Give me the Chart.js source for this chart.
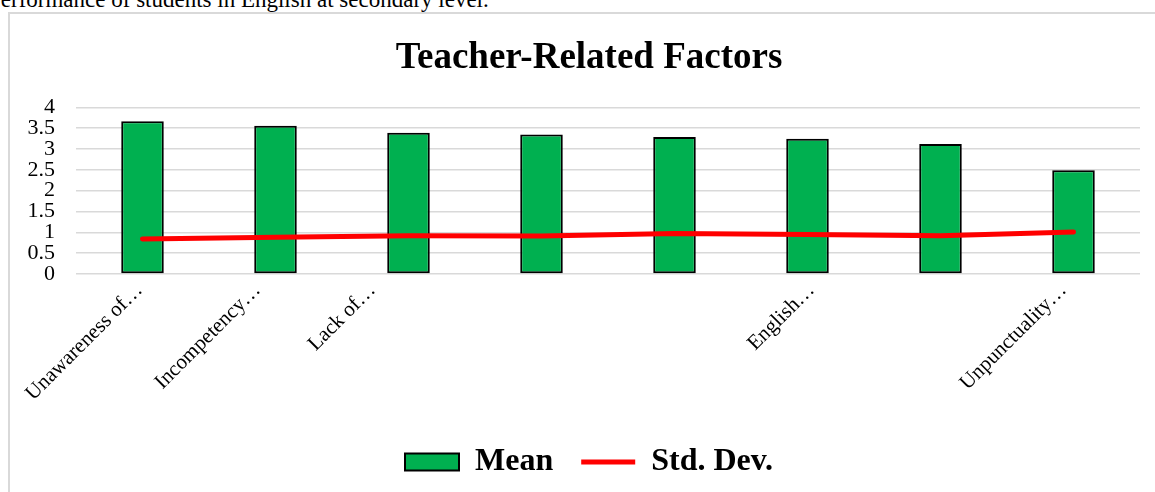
<!DOCTYPE html>
<html>
<head>
<meta charset="utf-8">
<script src="https://cdn.jsdelivr.net/npm/chart.js@4.4.0/dist/chart.umd.min.js"></script>
<style>
  html, body { margin: 0; padding: 0; background: #fff; overflow: hidden; }
  body { width: 1155px; height: 492px; position: relative; }
  .doc-line {
    position: absolute; left: -12px; top: -12px;
    font: 23px/23px "Liberation Serif", "Times New Roman", serif;
    color: #000; white-space: nowrap;
  }
  .chart-box {
    position: absolute; left: 8px; top: 12px; width: 1200px; height: 500px;
    border-left: 2px solid #d9d9d9; border-top: 2px solid #d9d9d9;
  }
  .chart-box canvas { display: block; }
</style>
</head>
<body>
<div class="doc-line">Performance of students in English at secondary level.</div>
<div class="chart-box">
  <canvas id="chart1" width="1158" height="478"></canvas>
</div>
<script>
const categories = ['Unawareness of…', 'Incompetency…', 'Lack of…', '', '', 'English…', '', 'Unpunctuality…'];
const meanValues = [3.67, 3.56, 3.39, 3.35, 3.29, 3.25, 3.12, 2.49];
const stdDevValues = [0.84, 0.88, 0.92, 0.91, 0.97, 0.95, 0.92, 1.01];
const yTicks = [0, 0.5, 1, 1.5, 2, 2.5, 3, 3.5, 4];

const serif = '"Liberation Serif", "Times New Roman", serif';
const ctx1 = document.getElementById('chart1');

// Excel places its truncated rotated labels a little off the tick; nudge them sideways to match
const labelNudge = {
    id: 'labelNudge',
    afterLayout(chart, args, options) {
        const scale = chart.scales.x;
        const items = scale.getLabelItems(chart.chartArea);
        items.forEach((item, i) => {
            item.options.translation[0] += (options.dx[i] || 0);
        });
    }
};

new Chart(ctx1, {
    type: 'bar',
    data: {
        labels: categories,
        datasets: [{
            label: 'Mean',
            data: meanValues,
            backgroundColor: '#00B050',
            borderColor: '#000000',
            borderWidth: 2,
            borderSkipped: false,
            barPercentage: 0.32,
            categoryPercentage: 1,
            pointStyle: 'rect',
            order: 1
        }, {
            type: 'line',
            label: 'Std. Dev.',
            data: stdDevValues,
            borderColor: '#FF0000',
            backgroundColor: '#FF0000',
            borderWidth: 5,
            borderCapStyle: 'round',
            pointRadius: 0,
            pointStyle: 'line',
            tension: 0,
            order: 0
        }]
    },
    options: {
        responsive: false,
        animation: false,
        layout: {
            padding: { left: 0, right: 0, top: 0, bottom: 4 }
        },
        plugins: {
            title: {
                display: true,
                text: 'Teacher-Related Factors',
                color: '#000',
                font: { family: serif, size: 37, weight: 'bold', lineHeight: 1.2 },
                padding: { top: 22, bottom: 27 }
            },
            legend: {
                position: 'bottom',
                labels: {
                    usePointStyle: true,
                    pointStyleWidth: 54,
                    boxHeight: 17,
                    padding: 28,
                    color: '#000',
                    font: { family: serif, size: 32, weight: 'bold' },
                    sort: (a, b) => a.datasetIndex - b.datasetIndex
                }
            },
            labelNudge: {
                dx: [-3, -18, -36, 0, 0, 4, 0, -10]
            },
            tooltip: { enabled: false }
        },
        scales: {
            x: {
                grid: { display: false },
                border: { display: false },
                ticks: {
                    autoSkip: false,
                    minRotation: 45,
                    maxRotation: 45,
                    padding: -4,
                    color: '#000',
                    font: { family: serif, size: 21 }
                },
                afterFit: (scale) => { scale.height = 144; }
            },
            y: {
                min: 0,
                max: 4,
                border: { display: false },
                grid: { color: '#d9d9d9', lineWidth: 1.5, drawTicks: false },
                afterBuildTicks: (scale) => { scale.ticks = yTicks.map(v => ({ value: v })); },
                ticks: {
                    autoSkip: false,
                    padding: 21,
                    color: '#000',
                    font: { family: serif, size: 22, lineHeight: 1 },
                    callback: (value) => String(value)
                },
                afterFit: (scale) => { scale.width = 66; }
            },
            // empty right-hand spacer so the title and legend sit where they do in the original
            ySpacer: {
                position: 'right',
                display: true,
                grid: { display: false },
                border: { display: false },
                ticks: { display: false },
                afterFit: (scale) => { scale.width = 28; }
            }
        }
    },
    plugins: [labelNudge]
});
</script>
</body>
</html>
